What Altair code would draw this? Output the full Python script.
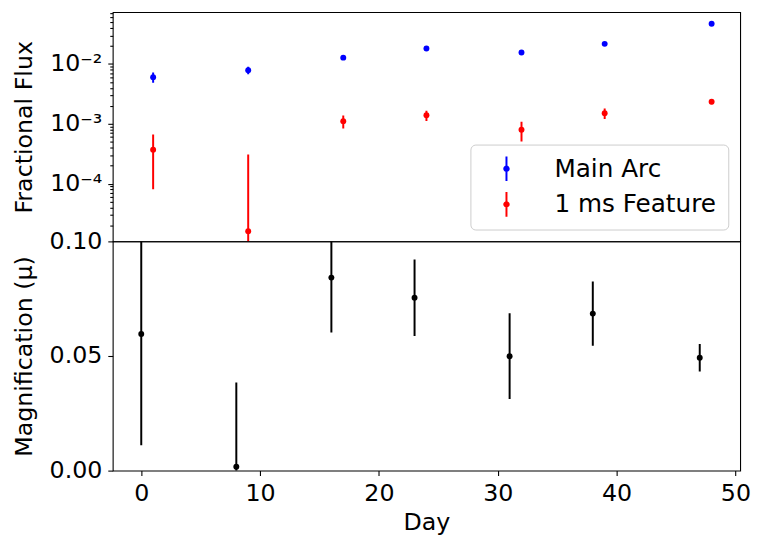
import altair as alt
import pandas as pd

# ---- data ----
days_flux = [1, 9, 17, 24, 32, 39, 48]
main_arc = [6.03e-3, 7.87e-3, 1.277e-2, 1.82e-2, 1.56e-2, 2.17e-2, 4.71e-2]
main_arc_err = [1.15e-3, 1.15e-3, 1.1e-3, 1.1e-3, 1.1e-3, 1.1e-3, 1.1e-3]
feature = [3.71e-4, 1.61e-5, 1.11e-3, 1.39e-3, 7.96e-4, 1.50e-3, 2.35e-3]
feature_err = [2.9e-4, 2.92e-4, 2.7e-4, 2.7e-4, 2.9e-4, 3.0e-4, 2.4e-4]

days_mag = [0, 8, 16, 23, 31, 38, 47]
magnification = [0.0596, 0.0017, 0.0842, 0.0754, 0.0499, 0.0685, 0.0492]
magnification_err = [0.0485, 0.0367, 0.0239, 0.0167, 0.0187, 0.014, 0.006]

series_names = ["Main Arc", "1 ms Feature"]
series_colors = ["#0000ff", "#ff0000"]

day_domain = [-2.4, 50.4]
day_ticks = [0, 10, 20, 30, 40, 50]
flux_domain = [1.087e-5, 0.0735]
flux_major = [1e-4, 1e-3, 1e-2]
flux_major_labels = ["10\u207b\u2074", "10\u207b\u00b3", "10\u207b\u00b2"]
flux_minor_mult = [2, 3, 4, 5, 6, 7, 8, 9]
flux_minor_decades = [1e-5, 1e-4, 1e-3, 1e-2]
mag_domain = [0, 0.1]
mag_ticks = [0, 0.05, 0.1]

# ---- tables ----
rows = []
for name, vals, errs in ((series_names[0], main_arc, main_arc_err),
                         (series_names[1], feature, feature_err)):
    for d, v, e in zip(days_flux, vals, errs):
        lo = v - e
        if lo <= 0:
            lo = flux_domain[0] * 1e-3  # non-positive on log axis: clipped
        rows.append({"day": d, "value": v, "lo": lo, "hi": v + e, "series": name})
flux_df = pd.DataFrame(rows)

mag_df = pd.DataFrame({
    "day": days_mag,
    "value": magnification,
    "lo": [v - e for v, e in zip(magnification, magnification_err)],
    "hi": [v + e for v, e in zip(magnification, magnification_err)],
})

flux_minor = [m * d for d in flux_minor_decades for m in flux_minor_mult
              if flux_domain[0] <= m * d <= flux_domain[1]]
flux_tick_values = flux_major + flux_minor

label_expr = ""
for v, lab in zip(flux_major, flux_major_labels):
    label_expr += f"datum.value === {v!r} ? '{lab}' : "
label_expr += "''"
major_test = "indexof([" + ",".join(repr(v) for v in flux_major) + "], datum.value) >= 0"

W, H = 635, 232
TITLE_X = -82

x_top = alt.X("day:Q", scale=alt.Scale(domain=day_domain, nice=False, zero=False), axis=None)
x_bot = alt.X("day:Q", scale=alt.Scale(domain=day_domain, nice=False, zero=False),
              axis=alt.Axis(title="Day", values=day_ticks, format="d", tickSize=5,
                            labelPadding=6, titlePadding=6, labelFlush=False,
                            labelOverlap=False))

flux_axis = alt.Axis(title="Fractional Flux", values=flux_tick_values, labelExpr=label_expr,
                     tickSize={"condition": {"test": major_test, "value": 5}, "value": 3},
                     labelFontSize={"condition": {"test": major_test, "value": 24}, "value": 0},
                     labelPadding=6, labelFlush=False, labelOverlap=False,
                     titleX=TITLE_X, titleY=H / 2, titleBaseline="alphabetic", titleAngle=270)
mag_axis = alt.Axis(title="Magnification (\u03bc)", values=mag_ticks, format=".2f", tickSize=5,
                    labelPadding=6, labelFlush=False, labelOverlap=False,
                    titleX=TITLE_X, titleY=H / 2, titleBaseline="alphabetic", titleAngle=270)

y_flux_scale = alt.Scale(type="log", domain=flux_domain, nice=False)
y_mag_scale = alt.Scale(domain=mag_domain, nice=False, zero=False)
color_scale = alt.Scale(domain=series_names, range=series_colors)

legend_symbol = ("M-0.08,-1L0.08,-1L0.08,1L-0.08,1Z "
                 "M-0.26,0A0.26,0.26 0 1,1 0.26,0A0.26,0.26 0 1,1 -0.26,0Z")
legend = alt.Legend(title=None, orient="none", legendX=362, legendY=134,
                    symbolType=legend_symbol, symbolSize=625, symbolStrokeWidth=0,
                    labelFontSize=25, labelColor="black", labelFont="DejaVu Sans",
                    labelLimit=400,
                    padding=12, rowPadding=10, symbolOffset=12, labelOffset=36,
                    fillColor="rgba(255,255,255,0.8)", strokeColor="#cccccc",
                    cornerRadius=5)

top_rules = alt.Chart(flux_df).mark_rule(strokeWidth=2, clip=True).encode(
    x=x_top,
    y=alt.Y("lo:Q", scale=y_flux_scale, axis=flux_axis),
    y2="hi:Q",
    color=alt.Color("series:N", scale=color_scale, legend=legend),
)
top_points = alt.Chart(flux_df).mark_point(filled=True, size=36, opacity=1).encode(
    x=x_top,
    y=alt.Y("value:Q", scale=y_flux_scale, axis=flux_axis),
    color=alt.Color("series:N", scale=color_scale, legend=legend),
)
top = alt.layer(top_points, top_rules).properties(width=W, height=H)

bot_rules = alt.Chart(mag_df).mark_rule(strokeWidth=2, clip=True, color="black").encode(
    x=x_bot,
    y=alt.Y("lo:Q", scale=y_mag_scale, axis=mag_axis),
    y2="hi:Q",
)
bot_points = alt.Chart(mag_df).mark_point(filled=True, size=36, opacity=1, color="black").encode(
    x=x_bot,
    y=alt.Y("value:Q", scale=y_mag_scale, axis=mag_axis),
)
bottom = alt.layer(bot_rules, bot_points).properties(width=W, height=H)

chart = alt.vconcat(top, bottom, spacing=0, bounds="flush").properties(
    padding={"left": 4, "top": 0, "right": 0, "bottom": 0},
    background="white",
).configure(font="DejaVu Sans").configure_view(
    stroke="black", strokeWidth=1.1
).configure_axis(
    labelFont="DejaVu Sans", titleFont="DejaVu Sans", labelFontSize=24, titleFontSize=24,
    titleFontWeight="normal", labelColor="black", titleColor="black", tickColor="black",
    tickWidth=1.1, domain=False, grid=False,
)

chart.save("out.html", embed_options={"renderer": "svg", "actions": False})
